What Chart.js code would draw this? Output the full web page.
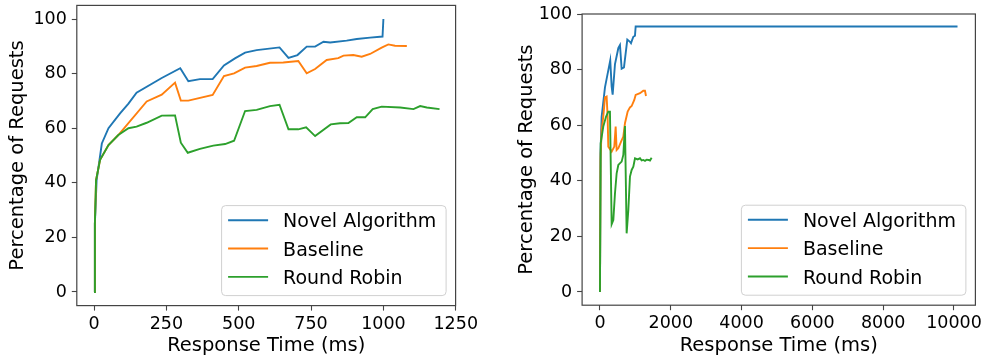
<!DOCTYPE html>
<html>
<head>
<meta charset="utf-8">
<script src="https://cdn.jsdelivr.net/npm/chart.js@4.4.1/dist/chart.umd.min.js"></script>
<style>
  html, body { margin: 0; padding: 0; background: #ffffff; }
  #wrap { position: relative; width: 985px; height: 359px; overflow: hidden; }
  .pane { position: absolute; top: 0; height: 359px; }
  canvas { display: block; }
</style>
</head>
<body>
<div id="wrap">
  <div class="pane" style="left:0px;width:492px"><canvas id="c1" width="492" height="359"></canvas></div>
  <div class="pane" style="left:492px;width:493px"><canvas id="c2" width="493" height="359"></canvas></div>
</div>
<script>
// ---------------- DATA ----------------
const seriesNames = ["Novel Algorithm", "Baseline", "Round Robin"];
const xTitle = "Response Time (ms)";
const yTitle = "Percentage of Requests";

// Left panel
const leftTicksX = [0, 250, 500, 750, 1000, 1250];
const leftTicksY = [0, 20, 40, 60, 80, 100];
const leftNovelX = [0, 3, 9, 27, 50, 90, 119, 147, 234, 298, 326, 366, 410, 449, 487, 522, 562, 641, 672, 703, 735, 764, 793, 816, 873, 908, 954, 997, 1000];
const leftNovelY = [0, 25, 41, 54.4, 60, 65.4, 69, 73, 78.4, 82, 77.2, 78, 78, 83, 85.6, 87.7, 88.6, 89.6, 85.8, 86.8, 89.9, 89.9, 91.7, 91.4, 92.1, 92.7, 93.2, 93.6, 100];
const leftBaseX = [0, 3, 7, 21, 50, 84, 182, 234, 280, 300, 326, 410, 449, 484, 522, 562, 608, 654, 706, 735, 764, 804, 844, 862, 896, 925, 954, 994, 1017, 1040, 1081];
const leftBaseY = [0, 25, 41, 48.4, 53.8, 57.5, 69.8, 72.3, 76.7, 70.1, 70.1, 72.2, 79.1, 80.1, 82.2, 82.8, 84, 84.1, 84.6, 80.1, 81.7, 85, 85.7, 86.6, 86.8, 86.2, 87.2, 89.5, 90.7, 90.2, 90.1];
const leftRobinX = [0, 3, 7, 21, 50, 84, 119, 147, 182, 234, 280, 300, 324, 366, 412, 453, 484, 522, 562, 608, 641, 672, 706, 733, 764, 818, 850, 879, 908, 937, 963, 994, 1058, 1104, 1127, 1150, 1194];
const leftRobinY = [0, 25, 41, 48.4, 53.8, 57.5, 60, 60.6, 62, 64.6, 64.7, 54.7, 51, 52.4, 53.6, 54.2, 55.4, 66.3, 66.7, 68.1, 68.6, 59.6, 59.6, 60.3, 57.1, 61.4, 61.8, 61.9, 64, 64, 67, 67.9, 67.6, 67, 68.1, 67.6, 67];

// Right panel
const rightTicksX = [0, 2000, 4000, 6000, 8000, 10000];
const rightTicksY = [0, 20, 40, 60, 80, 100];
const rightNovelX = [0, 15, 47, 141, 290, 330, 358, 424, 518, 565, 612, 678, 772, 847, 876, 942, 989, 1008, 10100];
const rightNovelY = [0, 50, 63, 73.6, 83.3, 73.9, 71, 82, 87.7, 88.8, 80.3, 80.8, 90.8, 90, 89.5, 91.8, 92.2, 95.5, 95.5];
const rightBaseX = [0, 15, 47, 100, 141, 188, 216, 235, 330, 405, 443, 471, 518, 593, 659, 706, 782, 847, 895, 969, 1008, 1130, 1224, 1271, 1300];
const rightBaseY = [0, 48, 58, 64, 70, 70.3, 63, 52.3, 50.5, 52.3, 59.5, 51.1, 51.7, 54, 55.9, 60.7, 64.9, 66.4, 66.9, 69.1, 70.9, 71.5, 72.4, 72.4, 70.5];
const rightRobinX = [0, 20, 93, 170, 235, 282, 330, 377, 424, 471, 518, 612, 659, 706, 753, 801, 847, 895, 942, 989, 1064, 1130, 1177, 1224, 1271, 1318, 1365, 1412, 1459];
const rightRobinY = [0, 53.5, 59.5, 63, 64.9, 64.9, 24.4, 25.9, 35.5, 42.7, 45.7, 46.9, 49.3, 59.7, 21.1, 29.5, 41.5, 43.9, 45.1, 48.1, 47.7, 48.1, 47.3, 47.5, 47.2, 47.6, 47.5, 47.3, 48.3];

// ---------------- STYLE ----------------
const COLORS = ["#1f77b4", "#ff7f0e", "#2ca02c"];
const FONT = "DejaVu Sans";
const TICK_SIZE = 17.5;
const TITLE_SIZE = 19.5;
const LEGEND_SIZE = 19;

function pts(xs, ys) { return xs.map((x, i) => ({ x: x, y: ys[i] })); }

const framePlugin = {
  id: 'frame',
  afterDatasetsDraw(chart) {
    const a = chart.chartArea, ctx = chart.ctx;
    ctx.save();
    ctx.strokeStyle = '#444';
    ctx.lineWidth = 1.2;
    ctx.strokeRect(a.left, a.top, a.right - a.left, a.bottom - a.top);
    ctx.restore();
  }
};

const legendPlugin = {
  id: 'boxLegend',
  afterDraw(chart) {
    const a = chart.chartArea, ctx = chart.ctx;
    const w = 224.5, h = 90;
    const right = a.right - 9.5, bottom = a.bottom - 10;
    const left = right - w, top = bottom - h;
    ctx.save();
    ctx.beginPath();
    if (ctx.roundRect) ctx.roundRect(left, top, w, h, 4); else ctx.rect(left, top, w, h);
    ctx.fillStyle = 'rgba(255,255,255,0.8)';
    ctx.fill();
    ctx.strokeStyle = '#d0d0d0';
    ctx.lineWidth = 1;
    ctx.stroke();
    ctx.font = LEGEND_SIZE + 'px "' + FONT + '"';
    ctx.textBaseline = 'alphabetic';
    ctx.textAlign = 'left';
    chart.data.datasets.forEach((ds, i) => {
      const y = top + 14.6 + i * 28.35;
      ctx.strokeStyle = ds.borderColor;
      ctx.lineWidth = 1.9;
      ctx.beginPath();
      ctx.moveTo(left + 6.5, y);
      ctx.lineTo(left + 46.5, y);
      ctx.stroke();
      ctx.fillStyle = '#000';
      ctx.fillText(ds.label, left + 61.5, y + 7.2);
    });
    ctx.restore();
  }
};

function makeChart(id, cfg) {
  const canvas = document.getElementById(id);
  const area = cfg.area;
  const datasets = cfg.series.map((s, i) => ({
    label: seriesNames[i],
    data: pts(s[0], s[1]),
    borderColor: COLORS[i],
    backgroundColor: COLORS[i],
    borderWidth: 1.9,
    pointRadius: 0,
    pointHoverRadius: 0,
    tension: 0,
    fill: false,
    showLine: true,
    order: 3 - i
  }));
  const tickFont = { family: FONT, size: TICK_SIZE };
  const titleFont = { family: FONT, size: TITLE_SIZE };
  const gridCfg = { display: true, drawOnChartArea: false, drawTicks: true, tickLength: 5, tickWidth: 1.1, tickColor: '#444' };
  return new Chart(canvas, {
    type: 'line',
    data: { datasets: datasets },
    options: {
      responsive: false,
      animation: false,
      devicePixelRatio: 1,
      events: [],
      layout: { padding: { top: area.top, right: canvas.width - area.right, left: 0, bottom: 0 } },
      plugins: { legend: { display: false }, tooltip: { enabled: false }, title: { display: false } },
      scales: {
        x: {
          type: 'linear',
          min: cfg.xMin, max: cfg.xMax,
          afterBuildTicks: s => { s.ticks = cfg.xTicks.map(v => ({ value: v })); },
          afterFit: s => { s.height = canvas.height - area.bottom; s.paddingLeft = 0; s.paddingRight = 0; s.paddingTop = 0; s.paddingBottom = 0; },
          grid: gridCfg,
          border: { display: false },
          ticks: { font: tickFont, color: '#000', padding: 3, maxRotation: 0, autoSkip: false, callback: v => String(v) },
          title: { display: true, text: xTitle, color: '#000', font: titleFont, padding: { top: 0, bottom: cfg.xTitlePad } }
        },
        y: {
          type: 'linear',
          min: cfg.yMin, max: cfg.yMax,
          afterBuildTicks: s => { s.ticks = cfg.yTicks.map(v => ({ value: v })); },
          afterFit: s => { s.width = area.left; s.paddingLeft = 0; s.paddingRight = 0; s.paddingTop = 0; s.paddingBottom = 0; },
          grid: gridCfg,
          border: { display: false },
          ticks: { font: tickFont, color: '#000', padding: 5, autoSkip: false, callback: v => String(v) },
          title: { display: true, text: yTitle, color: '#000', font: titleFont, padding: { top: cfg.yTitlePad, bottom: 0 } }
        }
      }
    },
    plugins: [framePlugin, legendPlugin]
  });
}

makeChart('c1', {
  area: { left: 76.8, right: 455.6, top: 5.4, bottom: 305.6 },
  xMin: -59.5, xMax: 1249.5, yMin: -5, yMax: 105,
  xTicks: leftTicksX, yTicks: leftTicksY,
  xTitlePad: 1.8, yTitlePad: 6.6,
  series: [[leftNovelX, leftNovelY], [leftBaseX, leftBaseY], [leftRobinX, leftRobinY]]
});

makeChart('c2', {
  area: { left: 90.1, right: 483.4, top: 14, bottom: 305.2 },
  xMin: -505, xMax: 10605, yMin: -4.75, yMax: 100,
  xTicks: rightTicksX, yTicks: rightTicksY,
  xTitlePad: 1.8, yTitlePad: 23,
  series: [[rightNovelX, rightNovelY], [rightBaseX, rightBaseY], [rightRobinX, rightRobinY]]
});
</script>
</body>
</html>
